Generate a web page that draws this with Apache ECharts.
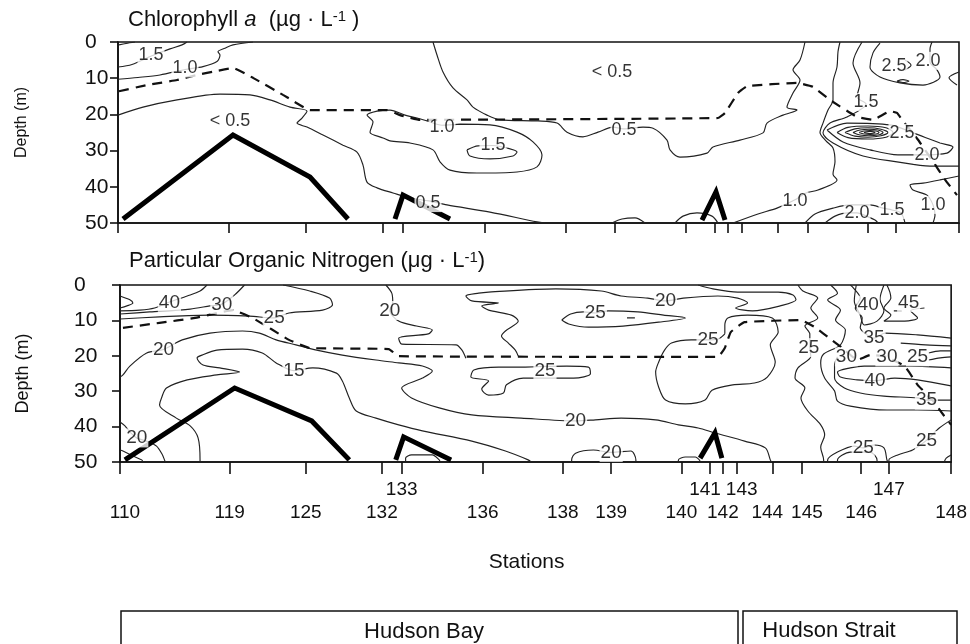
<!DOCTYPE html>
<html><head><meta charset="utf-8">
<script src="https://cdn.jsdelivr.net/npm/echarts@6/dist/echarts.min.js"></script>
<style>html,body{margin:0;padding:0;background:#fff}#c{width:970px;height:644px}</style>
</head><body><div id="c"></div>
<script>
// ---------- stations (along-track position units) ----------
const stationNames = ['110','119','125','132','133','136','138','139','140','141','142','143','144','145','146','147','148'];
const stationPos   = [0,111,188,265,285,367,448,497,568,597,610,624,660,690,750,778,841];
const upperRowStations = ['133','141','143','147'];
const depthTicks = [0,10,20,30,40,50];

// ---------- Chlorophyll a panel: [position, depth] ----------
const chlMixedLayer = [[1,13.6],[29,11.9],[59,10.5],[79,9.1],[99,8.0],[115,7.2],[135,9.9],[165,14.6],[192,18.8],[269,18.8],[282,20.2],[302,21.5],[600,21.0],[607,19.6],[620,14.1],[629,12.2],[679,11.3],[695,12.4],[712,16.0],[739,20.7],[755,21.5],[772,19.1],[779,19.6],[784,21.5],[800,27],[815,33],[827,38],[839,42.3]];
const chlBottom1 = [[5,48.9],[115,25.7],[192,37.3],[230,48.9]];
const chlBottom2 = [[277,48.9],[285,42.3],[332,48.9]];
const chlBottom3 = [[584,49.2],[598,41.4],[607,49.2]];

const chlC01 = [[1,0.8],[8,0.4],[17,0]];
const chlC02 = [[0,6.9],[14,6.2],[34,3.8],[52,1.9],[64,0.8],[69,0]];
const chlC03 = [[0,10.3],[20,9.8],[42,9.1],[67,7.6],[85,6.8],[99,5.4],[102,3.6],[100,2.7],[107,1.7],[115,0.8],[135,0]];
const chlC04 = [[0,20.2],[25,18.0],[59,16.0],[102,14.4],[132,14.6],[152,16.0],[172,18.0],[189,19.1],[184,21.0],[179,22.4],[189,23.5],[205,25.7],[225,28.5],[239,30.4],[245,34.0],[249,38.7],[259,40.3],[275,41.7],[292,43.1],[311,43.9],[329,45.0],[372,47.0],[419,49.7],[427,50]];
const chlC05 = [[342,22.7],[372,22.9],[399,24.9],[415,27.6],[424,31.2],[419,34.5],[399,35.9],[359,36.2],[332,35.4],[322,33.1],[315,29.8],[292,27.9],[272,27.3],[265,26.5],[252,24.9],[255,22.1],[249,20.2],[259,19.1],[272,18.8],[287,20.2],[299,21.0],[309,21.8],[324,23.0],[342,22.7]];
const chlC06 = [[349,29.8],[360,28.7],[375,28.6],[389,29.3],[399,30.4],[395,31.5],[372,32.3],[352,31.5],[349,29.8]];
const chlC07 = [[315,0],[319,3.6],[325,8.3],[335,12.7],[349,16],[355,18],[369,20.2],[382,21.5],[420,21.8],[439,22.4],[449,24.9],[465,26.2],[480,24.9],[495,23.5],[506,24],[525,23.5],[535,23.8],[549,27.1],[552,29.8],[562,31.8],[589,30.7],[595,29],[622,27.1],[645,25.1],[649,22.4],[665,20.2],[679,18.8],[669,18],[675,14.1],[682,10.5],[675,7.7],[682,5],[687,0]];
const chlC08 = [[722,0],[720,2.7],[719,6.9],[715,11.3],[715,16],[710,18.8],[705,22.4],[702,25],[708,27.3],[715,29.3],[717,33.1],[715,36.5],[719,38.1],[700,40.9],[688,41.7],[677,43.6],[659,45.9],[640,47.5],[615,50]];
const chlC09 = [[744,0],[735,5.8],[742,11.3],[739,15.2],[748,17.1],[729,20.7],[712,22.4],[705,25.1],[715,27.9],[745,31.5],[779,33.1],[812,34.3],[841,34.3]];
const chlC10 = [[709,24.3],[729,22.4],[772,22.9],[795,25.1],[822,27.9],[835,29],[829,30.7],[805,31.2],[780,31.2],[752,29.8],[725,27.6],[709,24.3]];
const chlR1 = [[719,25],[730,23.6],[750,23.2],[768,23.7],[775,25],[768,26.3],[750,26.8],[730,26.4],[719,25]];
const chlR2 = [[727,25],[737,24],[750,23.7],[763,24.1],[770,25],[763,25.9],[750,26.3],[737,26],[727,25]];
const chlR3 = [[735,25],[742,24.3],[751,24.1],[760,24.3],[765,25],[760,25.7],[751,25.9],[742,25.7],[735,25]];
const chlR4 = [[741,25],[746,24.6],[752,24.5],[758,24.6],[761,25],[758,25.4],[752,25.5],[746,25.4],[741,25]];
const chlR5 = [[746,25],[749,24.8],[752,24.7],[755,24.8],[757,25],[755,25.2],[752,25.3],[749,25.2],[746,25]];
const chlC11 = [[762,0.3],[755,3],[752,6.9],[762,9.7],[782,11.3],[805,11.9],[822,9.7],[819,7.7],[812,5.5],[812,2],[814,0]];
const chlC12 = [[787,5],[793,6.4],[787,7.7]];
const chlC13 = [[779,10.8],[785,10.4],[791,10.8],[785,11.2],[779,10.8]];
const chlC14 = [[841,8.3],[831,9.9],[839,11.9]];
const chlC15 = [[841,37],[822,38.1],[805,39],[792,39.5],[795,40.9],[809,42.3],[815,45],[817,47.8],[815,50]];
const chlC16 = [[687,50],[697,47.5],[715,45.9],[732,45],[752,45],[765,45.9],[774,46.4],[783,47.2],[787,50]];
const chlC17 = [[707,50],[717,48.1],[730,47.2],[739,47.2],[750,48.3],[757,49.2],[760,50]];
const chlC18 = [[494,50],[504,48.9],[517,48.6],[527,50]];
const chlC19 = [[557,50],[565,48.1],[579,47.2],[594,48.1],[600,50]];
const chlLabels = [['< 0.5',112,21.8],['< 0.5',494,8.3],['1.5',33,3.6],['1.0',67,7.3],['1.0',324,23.5],['1.5',375,28.5],['0.5',310,44.5],['0.5',506,24.3],['1.0',677,43.9],['1.5',748,16.6],['2.0',809,31.2],['2.5',784,25.1],['2.0',810,5.2],['2.5',776,6.6],['1.0',815,45],['1.5',774,46.4],['2.0',739,47.2]];

// ---------- Particulate Organic Nitrogen panel ----------
const ponMixedLayer = [[3,12.1],[40,10.7],[76,9.3],[114,7.1],[134,9.3],[151,12.1],[171,15.5],[192,17.8],[272,18.1],[282,20.1],[605,20.3],[612,17.8],[618,13.3],[632,10.5],[689,9.9],[703,11.9],[719,15.3],[731,17.8],[746,21.2],[759,19.8],[773,20.1],[794,22.9],[807,28.2],[822,32.5],[834,37.0],[841,39.5]];
const ponBottom1 = [[5,49.4],[116,29.1],[194,38.4],[232,49.4]];
const ponBottom2 = [[279,49.4],[287,42.9],[335,49.4]];
const ponBottom3 = [[587,48.9],[602,41.8],[609,48.9]];

const ponC01 = [[0,7.3],[20,7.1],[35,6.5],[50,4.8],[68,3.1],[81,1.7],[88,0]];
const ponC02 = [[0,3.1],[10,4.2],[13,5.1],[7,5.9],[0,6.5]];
const ponC03 = [[0,8.2],[30,7.6],[71,6.8],[91,5.9],[103,5.4],[116,2.8],[126,0]];
const ponC04 = [[0,9.6],[40,9.0],[91,8.5],[131,8.8],[156,9.3],[171,7.9],[205,7.1],[215,5.6],[212,3.7],[192,1.7],[165,0]];
const ponC05 = [[0,26],[3,25.4],[10,22.9],[27,19.2],[44,18.2],[63,15.5],[91,13.6],[124,13.0],[141,13.6],[158,15.5],[178,16.9],[199,18.4],[225,19.8],[259,21.2],[282,22.0],[306,22.9],[316,24.3],[306,26.3],[285,29.1],[295,31.9],[323,34.7],[356,36.7],[406,37.6],[461,38.4],[481,38.1],[507,37.6],[542,38.1],[565,39.5],[585,40.4],[602,41.8],[632,44.1],[653,46.0],[658,49.4],[659,50]];
const ponC06 = [[81,50],[81,49.4],[79,43.2],[71,39.8],[57,37.6],[40,33.9],[42,31.9],[47,29.1],[68,26.8],[98,25.4],[121,24.6],[101,23.4],[84,22.6],[78,20.6],[83,19.8],[98,18.4],[124,18.1],[144,19.2],[158,22.0],[176,24.2],[195,23.4],[219,24.9],[225,27.1],[232,31.9],[239,35.6],[259,37.6],[282,39.5],[306,41.2],[356,44.1],[390,46.9],[413,49.4],[416,50]];
const ponC07 = [[0,38.7],[5,39.8],[10,41.5],[17,43.2],[27,44.1],[37,45.5],[43,48],[45,49.4],[46,50]];
const ponC08 = [[0,46.6],[3,46.9],[13,48.3],[22,49.4],[23,50]];
const ponC09 = [[269,0],[275,2.3],[276,5],[273,7.2],[282,10.2],[300,11.6],[316,12.7],[312,13.8],[282,15.0],[285,16.7],[340,16.9],[346,18.4],[350,20.7]];
const ponC10 = [[403,20.1],[400,18.4],[393,16.4],[386,14.4],[390,13.0],[403,10.2],[396,8.5],[373,7.1],[366,5.9],[383,5.1],[356,4.5],[350,3.1],[363,2.3],[373,2.0],[441,1.1],[487,1.7],[507,3.1],[534,3.7],[552,4.5],[570,3.7],[605,3.1],[625,3.7],[635,5.1],[623,6.5],[640,7.3],[668,5.9],[684,4.2],[681,2.8],[666,2.0],[625,2.0],[600,1.1],[585,0]];
const ponC11 = [[447,9.9],[456,8.2],[469,7.6],[481,7.9],[494,7.3],[524,7.6],[550,8.5],[572,9.3],[545,10.5],[509,11.6],[474,11.9],[454,11.0],[447,9.9]];
const ponC12 = [[513,9.3],[521,9.3]];
const ponC13 = [[410,23.2],[383,23.2],[358,24.0],[355,26.0],[373,27.1],[366,29.4],[373,31.1],[388,30.5],[391,28.2],[408,26.3],[459,26.3],[476,25.1],[474,23.2],[452,22.9],[430,23.0],[410,23.2]];
const ponC14 = [[612,13.8],[605,15.3],[595,15.5],[578,15.5],[558,16.4],[551,18.4],[545,21.8],[542,24.6],[545,28.8],[552,32.5],[572,33.6],[592,32.5],[599,29.7],[620,28.2],[642,27.7],[655,26.0],[663,21.8],[658,16.9],[666,13.3],[660,9.3],[635,8.5],[615,9.3],[612,11.3],[612,13.8]];
const ponC15 = [[686,0],[691,1.7],[706,3.7],[699,6.5],[706,9.3],[693,11.6],[698,13.8],[698,17.6],[699,20.1],[686,23.4],[683,26.3],[693,29.1],[689,31.9],[696,35.6],[709,39.5],[713,42.4],[709,45.8],[712,49.4],[712,50]];
const ponC16 = [[719,0],[726,2.3],[716,4.2],[729,7.1],[724,9.9],[734,12.7],[729,16.9],[712,19.5],[709,22],[713,26.3],[723,29.9],[726,32.8],[739,34.2],[776,35.3],[807,35.3],[841,35.6]];
const ponC17 = [[726,20.3],[723,22.6],[723,26.3],[733,29.1],[749,30.5],[773,31.4],[807,31.9],[816,32.5],[841,32.5]];
const ponC18 = [[841,23.4],[800,22.9],[753,22.9],[739,23.4],[726,24.6],[729,26.0],[746,26.8],[764,27.0],[784,26.3],[807,26.8],[841,28.5]];
const ponC19 = [[739,0],[742,0.8],[749,3.7],[744,6.5],[751,9.3],[749,12.1],[756,14.1],[763,15],[774,13.6],[807,14.1],[841,15.0]];
const ponC20 = [[745,0],[743,4.5],[749,8.5],[753,11.3],[766,10.2],[773,7.3],[769,4],[773,0]];
const ponC21 = [[776,0],[779,2],[780,3.7],[773,6.5],[780,8.5],[773,10.2],[794,10.2],[807,9.3],[800,7.3],[814,6.5]];
const ponC22 = [[783,7.3],[791,7.3]];
const ponC23 = [[790,16.4],[815,16.9],[841,17.2]];
const ponC24 = [[818,19.2],[830,18.6],[841,18.6]];
const ponC25 = [[818,21.2],[830,20.6],[841,20.3]];
const ponC26 = [[716,50],[716,49.4],[726,47.2],[743,45.5],[752,46],[763,45.2],[773,46.0],[776,49.4],[777,50]];
const ponC27 = [[726,50],[726,49.4],[739,47.2],[759,47.2],[766,49.4],[766,50]];
const ponC28 = [[778,50],[778,49.4],[787,48.0],[802,46.6],[816,43.9],[829,40.4],[841,38.1]];
const ponC29 = [[834,50],[836,48.9],[841,48]];
const ponC30 = [[457,50],[457,49.4],[461,47.5],[479,46.6],[497,47.3],[517,46.9],[522,49.4],[522,50]];
const ponC31 = [[289,50],[289,48.9],[295,48.0],[316,48.0],[323,49.4],[324,50]];
const ponC32 = [[565,50],[565,49.4],[572,48.6],[582,48.6],[587,49.7]];
const ponLabels = [['40',50,4.9],['30',103,5.5],['25',156,9.3],['20',44,18.2],['15',176,24.2],['20',17,43.2],['20',273,7.2],['25',481,7.9],['20',552,4.5],['25',430,24.3],['20',461,38.4],['20',497,47.3],['25',595,15.5],['25',697,17.7],['30',735,20.3],['30',776,20.3],['25',807,20.3],['40',757,5.7],['45',798,4.9],['35',763,15.0],['40',764,27.0],['35',816,32.5],['25',752,46.0],['25',816,43.9]];

// ---------- build ----------
const FONT = "'Liberation Sans',Arial,sans-serif";
const INK = '#111';

const chlContours = [chlC01,chlC02,chlC03,chlC04,chlC05,chlC06,chlC07,chlC08,chlC09,chlC10,chlR1,chlR2,chlR3,chlR4,chlR5,chlC11,chlC12,chlC13,chlC14,chlC15,chlC16,chlC17,chlC18,chlC19];
const ponContours = [ponC01,ponC02,ponC03,ponC04,ponC05,ponC06,ponC07,ponC08,ponC09,ponC10,ponC11,ponC12,ponC13,ponC14,ponC15,ponC16,ponC17,ponC18,ponC19,ponC20,ponC21,ponC22,ponC23,ponC24,ponC25,ponC26,ponC27,ponC28,ponC29,ponC30,ponC31,ponC32];

function contourSeries(data, panel) {
  return {type:'line', xAxisIndex: panel, yAxisIndex: panel, data: data, symbol:'none', smooth:0.3,
    lineStyle:{color:'#222', width:1.15}, silent:true, z:2, animation:false};
}
function mldSeries(data, panel) {
  return {type:'line', xAxisIndex: panel, yAxisIndex: panel, data: data, symbol:'none', smooth:0.1,
    lineStyle:{color:INK, width:2.2, type:[10,7]}, silent:true, z:3, animation:false};
}
function bottomSeries(data, panel) {
  return {type:'line', xAxisIndex: panel, yAxisIndex: panel, data: data, symbol:'none',
    lineStyle:{color:'#000', width:5, join:'miter'}, silent:true, z:4, animation:false};
}
function labelSeries(labels, panel, size) {
  return {type:'scatter', xAxisIndex: panel, yAxisIndex: panel, symbolSize:1, itemStyle:{color:'rgba(0,0,0,0)'},
    data: labels.map(l => ({name:l[0], value:[l[1], l[2]]})), silent:true, z:6, animation:false,
    label:{show:true, position:'inside', formatter: p => p.name, fontFamily: FONT, fontSize:size, color:'#000',
      backgroundColor:'#fff', padding:[0,1]}};
}

const series = [];
chlContours.forEach(c => series.push(contourSeries(c, 0)));
ponContours.forEach(c => series.push(contourSeries(c, 1)));
series.push(mldSeries(chlMixedLayer, 0), mldSeries(ponMixedLayer, 1));
[chlBottom1, chlBottom2, chlBottom3].forEach(b => series.push(bottomSeries(b, 0)));
[ponBottom1, ponBottom2, ponBottom3].forEach(b => series.push(bottomSeries(b, 1)));
series.push(labelSeries(chlLabels, 0, 18), labelSeries(ponLabels, 1, 19));

const upperPos = stationPos.filter((p, i) => upperRowStations.includes(stationNames[i]));
const lowerPos = stationPos.filter((p, i) => !upperRowStations.includes(stationNames[i]));
// crowded neighbours are nudged apart slightly, as in the original
const nudgeLeft = ['141','144'], nudgeRight = ['110','143','145'];
const stationName = v => {
  const n = stationNames[stationPos.indexOf(v)] || '';
  if (nudgeLeft.includes(n)) return '{l|' + n + '}';
  if (nudgeRight.includes(n)) return '{r|' + n + '}';
  return '{c|' + n + '}';
};
const tickRich = {c:{fontFamily:FONT, fontSize:19, color:INK},
  l:{fontFamily:FONT, fontSize:19, color:INK, padding:[0,10,0,0]},
  r:{fontFamily:FONT, fontSize:19, color:INK, padding:[0,0,0,10]}};
const xMin = stationPos[0], xMax = stationPos[stationPos.length - 1];

const axisLine = {show:true, onZero:false, lineStyle:{color:INK, width:1.6}};
function xAxisBase(grid) {
  return {type:'value', gridIndex:grid, position:'bottom', min:xMin, max:xMax, splitLine:{show:false}, axisLine: axisLine,
    axisTick:{show:true, customValues: stationPos, length: grid === 0 ? 10 : 12, lineStyle:{color:INK, width:1.6}},
    axisLabel:{show:false}};
}
const xAxes = [xAxisBase(0), xAxisBase(1),
  {type:'value', gridIndex:1, position:'bottom', min:xMin, max:xMax, splitLine:{show:false}, axisLine:{show:false}, axisTick:{show:false},
   axisLabel:{show:true, customValues: lowerPos, formatter: stationName, margin:41, fontFamily:FONT, fontSize:19, color:INK, rich:tickRich},
   name:'Stations', nameLocation:'middle', nameGap:90, nameTextStyle:{fontFamily:FONT, fontSize:21, color:INK, padding:[0,18,0,0]}}];
xAxes[1].axisLabel = {show:true, customValues: upperPos, formatter: stationName, margin:18, fontFamily:FONT, fontSize:19, color:INK, rich:tickRich};

function yAxisBase(grid, labelMargin, nameStyle) {
  return {type:'value', gridIndex:grid, inverse:true, min:depthTicks[0], max:depthTicks[depthTicks.length-1], interval:10,
    splitLine:{show:false}, axisLine: axisLine,
    axisTick:{show:true, length:8, lineStyle:{color:INK, width:1.6}},
    axisLabel:{show:true, margin:labelMargin, align:'left', fontFamily:FONT, fontSize:21, color:INK},
    name:'Depth (m)', nameLocation:'middle', nameRotate:90, nameGap:88, nameTextStyle: nameStyle};
}

const richBase = {fontFamily:FONT, fontSize:22, fontWeight:'normal', color:INK};
const option = {
  backgroundColor:'#fff',
  animation:false,
  title:[
    {text:'{n|Chlorophyll }{i|a}{n|  (µg · L}{s|-1}{n| )}', left:123, top:4,
     textStyle:{fontWeight:'normal', rich:{n:richBase, i:Object.assign({}, richBase, {fontStyle:'italic'}),
       s:{fontFamily:FONT, fontSize:15, fontWeight:'normal', color:INK, verticalAlign:'top'}}}},
    {text:'{n|Particular Organic Nitrogen (μg · L}{s|-1}{n|)}', left:124, top:245,
     textStyle:{fontWeight:'normal', rich:{n:richBase, s:{fontFamily:FONT, fontSize:15, fontWeight:'normal', color:INK, verticalAlign:'top'}}}}
  ],
  grid:[
    {left:118, width:841, top:42, height:181, show:true, borderColor:INK, borderWidth:1.6},
    {left:120, width:834, top:285, height:177, show:true, borderColor:INK, borderWidth:1.6}
  ],
  xAxis: xAxes,
  yAxis:[
    yAxisBase(0, 33, {fontFamily:FONT, fontSize:16, color:INK, padding:[0,0,0,20]}),
    yAxisBase(1, 46, {fontFamily:FONT, fontSize:18, color:INK})
  ],
  graphic:[
    {type:'rect', shape:{x:121, y:611, width:617, height:45}, style:{fill:'none', stroke:INK, lineWidth:1.5}},
    {type:'rect', shape:{x:743, y:611, width:214, height:45}, style:{fill:'none', stroke:INK, lineWidth:1.5}},
    {type:'text', x:424, y:632, style:{text:'Hudson Bay', align:'center', verticalAlign:'middle', fontFamily:FONT, fontSize:22, fill:INK}},
    {type:'text', x:829, y:631, style:{text:'Hudson Strait', align:'center', verticalAlign:'middle', fontFamily:FONT, fontSize:22, fill:INK}}
  ],
  series: series
};

const chart = echarts.init(document.getElementById('c'), null, {renderer:'canvas'});
chart.setOption(option);
</script>
</body></html>
